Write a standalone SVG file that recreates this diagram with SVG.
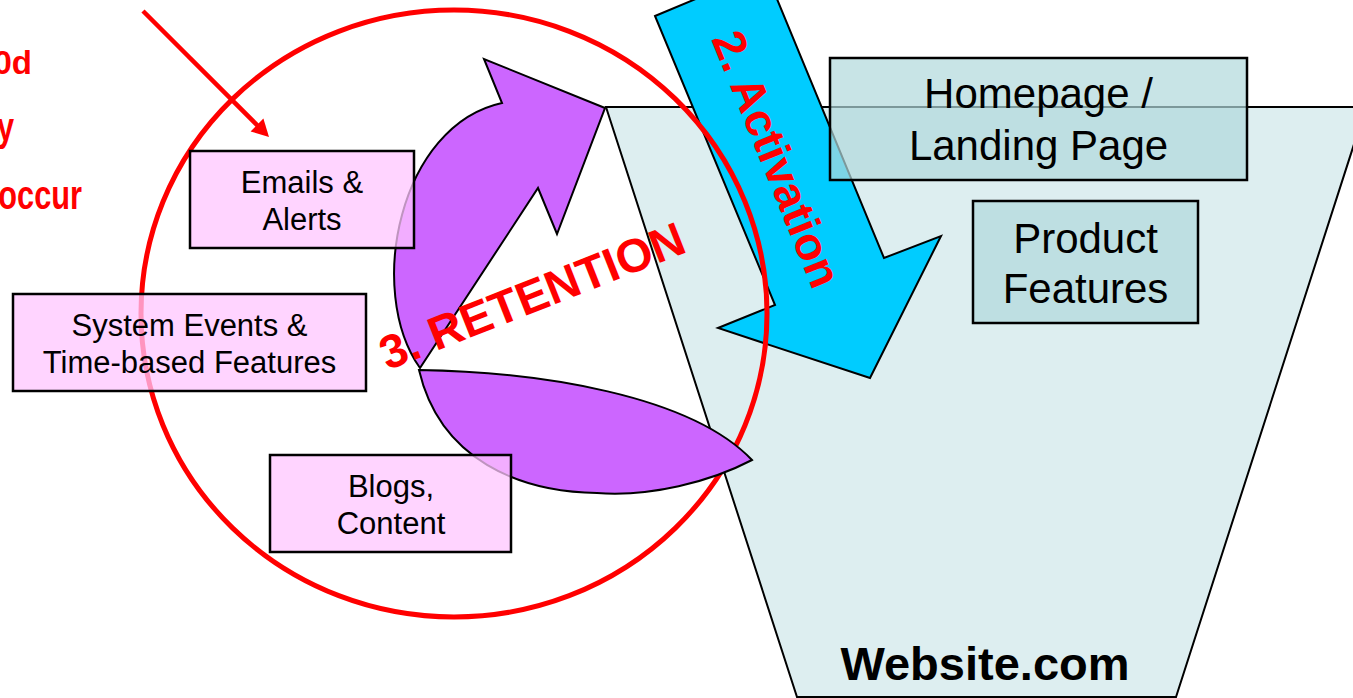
<svg xmlns="http://www.w3.org/2000/svg" width="1353" height="698" viewBox="0 0 1353 698">
  <defs>
    <style>
      .pink { fill: #FFC6FF; fill-opacity: 0.75; stroke: #000; stroke-width: 2.5; }
      .teal { fill: #B0D8DC; fill-opacity: 0.7; stroke: #000; stroke-width: 2.5; }
      .lbl { font-family: "Liberation Sans", Arial, sans-serif; fill: #000; text-anchor: middle; }
      .red { font-family: "Liberation Sans", Arial, sans-serif; font-weight: bold; fill: #FF0000; }
      .purple { fill: #CC66FF; stroke: #000; stroke-width: 2; stroke-linejoin: miter; }
    </style>
  </defs>
  <rect width="1353" height="698" fill="#FFFFFF"/>

  <!-- partially visible side notes -->
  <g id="side-notes" class="red">
    <text x="32" y="74" font-size="33" text-anchor="end">0d</text>
    <text transform="translate(14,141) scale(0.75,1)" font-size="41" text-anchor="end">y</text>
    <text transform="translate(82,209) scale(0.75,1)" font-size="41" text-anchor="end">occur</text>
  </g>

  <!-- website funnel -->
  <g id="funnel">
    <polygon points="606,107 1366,107 1176,697 797,697" fill="#DDEEF0" stroke="#000" stroke-width="2"/>
    <text x="985" y="680" font-family="Liberation Sans, Arial, sans-serif" font-weight="bold" font-size="47" text-anchor="middle" fill="#000">Website.com</text>
  </g>

  <!-- activation arrow -->
  <g id="activation">
    <polygon points="655,16 765,-30 884,258 941,236 870,378 718,328 775,305" fill="#00CCFF" stroke="#000" stroke-width="2"/>
  </g>

  <!-- retention loop outline -->
  <g id="retention-ring">
    <ellipse cx="454" cy="313.5" rx="313" ry="303.5" fill="none" stroke="#FF0000" stroke-width="5"/>
  </g>

  <!-- retention cycle arrows -->
  <g id="retention-arrows">
    <path class="purple" d="M605,108 L484,59 L502,103 C400,125 365,290 420,368 L538,188 L557,234 Z"/>
    <path class="purple" d="M419,370 C540,372 690,395 752,460 C710,482 650,497 597,493 C520,492 440,460 419,370 Z"/>
  </g>

  <g id="node-homepage">
    <rect class="teal" x="830" y="58" width="417" height="122"/>
    <text class="lbl" x="1038.5" y="108" font-size="42">Homepage /</text>
    <text class="lbl" x="1038.5" y="160" font-size="42">Landing Page</text>
  </g>

  <g id="node-product">
    <rect class="teal" x="973" y="201" width="225" height="122"/>
    <text class="lbl" x="1085.5" y="253" font-size="42">Product</text>
    <text class="lbl" x="1085.5" y="303" font-size="42">Features</text>
  </g>

  <g id="node-emails">
    <rect class="pink" x="190" y="151" width="224" height="97"/>
    <text class="lbl" x="302" y="193" font-size="31">Emails &amp;</text>
    <text class="lbl" x="302" y="230" font-size="31">Alerts</text>
  </g>

  <g id="node-system">
    <rect class="pink" x="13" y="294" width="353" height="97"/>
    <text class="lbl" x="189.5" y="336" font-size="31">System Events &amp;</text>
    <text class="lbl" x="189.5" y="373" font-size="31">Time-based Features</text>
  </g>

  <g id="node-blogs">
    <rect class="pink" x="270" y="455" width="241" height="97"/>
    <text class="lbl" x="391" y="497" font-size="31">Blogs,</text>
    <text class="lbl" x="391" y="534" font-size="31">Content</text>
  </g>

  <!-- stage labels -->
  <g id="stage-labels" class="red">
    <text transform="translate(762,165) rotate(68)" font-size="46" text-anchor="middle">2. Activation</text>
    <text transform="translate(538,311) rotate(-21.6)" font-size="47" text-anchor="middle">3. RETENTION</text>
  </g>

  <!-- connectors -->
  <g id="connectors">
    <line x1="143" y1="11" x2="259" y2="127" stroke="#FF0000" stroke-width="4.5"/>
    <polygon points="269,137 250.6,131.4 263.4,118.6" fill="#FF0000"/>
  </g>
</svg>
